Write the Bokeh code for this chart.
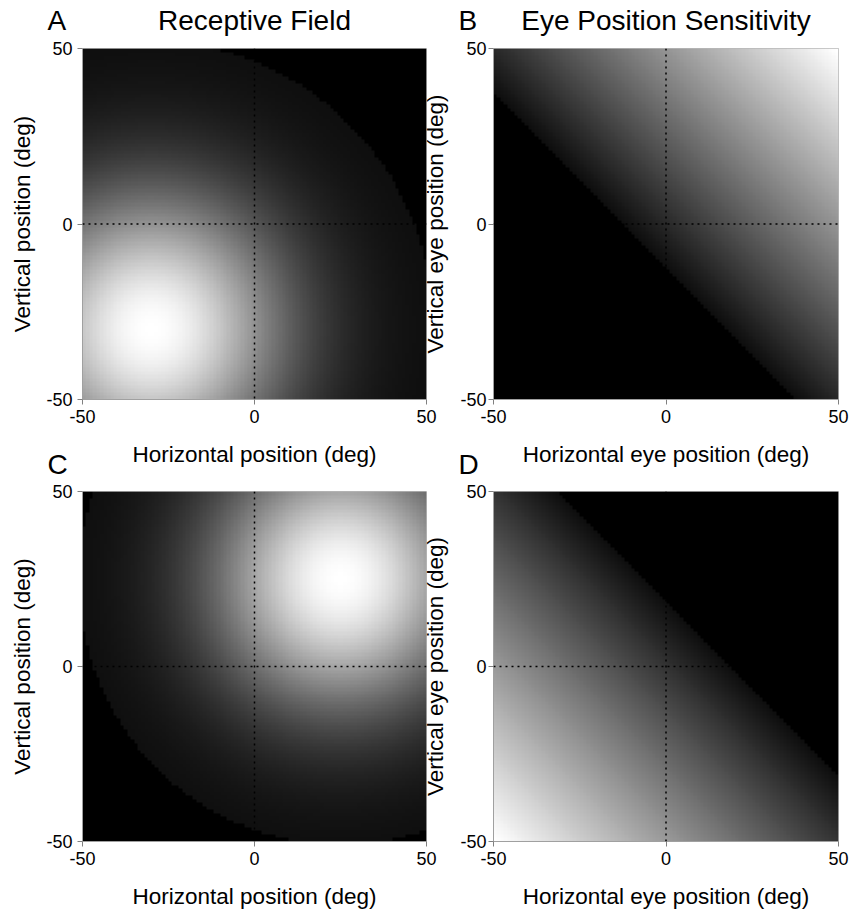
import numpy as np
from bokeh.plotting import figure
from bokeh.models import Span, FixedTicker, Range1d
from bokeh.layouts import column, row
from bokeh.core.properties import value
from bokeh.embed import file_html
from bokeh.resources import INLINE

# ---- data ----
tick_values = [-50, 0, 50]
tick_labels = ["-50", "0", "50"]
panel_letters = ["A", "B", "C", "D"]
panel_titles = ["Receptive Field", "Eye Position Sensitivity"]
x_labels = ["Horizontal position (deg)", "Horizontal eye position (deg)"]
y_labels = ["Vertical position (deg)", "Vertical eye position (deg)"]

# receptive fields (panels A, C): centre, width, cut-off radius (deg)
rf_center_x = [-30, 25]
rf_center_y = [-30, 25]
rf_sigma = [27.5, 26]
rf_cutoff = [82, 76]

# eye-position gain fields (panels B, D): threshold on (x + y), direction
gain_threshold = [-13, 19]
gain_sign = [1, -1]

response_floor = 0.045          # grey level just inside the cut-off
grid_deg = np.arange(-49.5, 50.0, 1.0)   # 1-degree sampling grid

FONT = "Liberation Sans"
X, Y = np.meshgrid(grid_deg, grid_deg)

# ---- layout constants (pixels) ----
W = 851
LEFT_W, RIGHT_W = 440, 431          # figure widths (right one overlaps by 20)
OVERLAP_X = 20
FRAME_L = [82, 73]                  # left border of left / right figure
FRAME_W = [344, 345]
FRAME_R = [14, 13]
FRAME_H = 351
TOP_ROW = dict(top=48, bottom=77)
BOT_ROW = dict(top=41, bottom=69)


def to_rgba(v, rep=4):
    g = np.clip(np.round(v * 255), 0, 255).astype(np.uint8)
    g = np.repeat(np.repeat(g, rep, axis=0), rep, axis=1)
    n, m = g.shape
    img = np.empty((n, m), dtype=np.uint32)
    view = img.view(dtype=np.uint8).reshape((n, m, 4))
    view[:, :, 0] = g
    view[:, :, 1] = g
    view[:, :, 2] = g
    view[:, :, 3] = 255
    return img


def rf_map(i):
    r2 = (X - rf_center_x[i]) ** 2 + (Y - rf_center_y[i]) ** 2
    v = response_floor + (1 - response_floor) * np.exp(-r2 / (2.0 * rf_sigma[i] ** 2))
    return np.where(np.sqrt(r2) <= rf_cutoff[i], v, 0.0)


def gain_map(i):
    s = gain_sign[i] * ((X + Y) - gain_threshold[i])
    v = response_floor + (1 - response_floor) * s / s.max()
    return np.where(s > 0, v, 0.0)


def make_panel(img, xlabel, ylabel, col, rowspec, tick_standoff, ylab_standoff, margin):
    left, fw, right = FRAME_L[col], FRAME_W[col], FRAME_R[col]
    top, bottom = rowspec["top"], rowspec["bottom"]
    p = figure(width=left + fw + right, height=top + FRAME_H + bottom,
               x_range=Range1d(-50, 50), y_range=Range1d(-50, 50),
               output_backend="svg", toolbar_location=None,
               min_border_left=left, min_border_right=right,
               min_border_top=top, min_border_bottom=bottom,
               margin=margin)
    p.border_fill_color = None
    p.outline_line_color = "#b8b8b8"
    p.outline_line_width = 1
    p.grid.visible = False

    p.image_rgba(image=[img], x=-50, y=-50, dw=100, dh=100)

    for dim in ("height", "width"):
        p.add_layout(Span(location=0, dimension=dim, line_color="black",
                          line_width=1.5, line_dash="2 4"))

    for ax in (p.xaxis[0], p.yaxis[0]):
        ax.ticker = FixedTicker(ticks=tick_values)
        ax.major_label_overrides = dict(zip(tick_values, tick_labels))
        ax.minor_tick_line_color = None
        ax.major_tick_in = 0
        ax.major_tick_out = 5
        ax.major_tick_line_color = "#808080"
        ax.axis_line_color = "#a0a0a0"
        ax.major_label_text_font = FONT
        ax.major_label_text_font_size = "18px"
        ax.major_label_text_color = "black"
        ax.axis_label_text_font = FONT
        ax.axis_label_text_font_size = "22.5px"
        ax.axis_label_text_font_style = "normal"
        ax.axis_label_text_color = "black"
    p.xaxis[0].axis_label = xlabel
    p.yaxis[0].axis_label = ylabel
    p.xaxis[0].major_label_standoff = 5
    p.xaxis[0].axis_label_standoff = 16
    p.yaxis[0].major_label_standoff = tick_standoff
    p.yaxis[0].axis_label_standoff = ylab_standoff
    p.yaxis[0].major_label_orientation = "horizontal"
    return p


def header(height, letters, titles, text_y, margin):
    h = figure(width=W, height=height, x_range=Range1d(0, W), y_range=Range1d(0, height),
               output_backend="svg", toolbar_location=None, min_border=0,
               x_axis_location=None, y_axis_location=None, margin=margin)
    h.grid.visible = False
    h.outline_line_color = None
    h.border_fill_color = None
    h.background_fill_color = None
    frame_lefts = [FRAME_L[0], LEFT_W - OVERLAP_X + FRAME_L[1]]
    letter_x = [fl - 35 for fl in frame_lefts]
    h.text(x=letter_x, y=[text_y] * len(letters), text=letters,
           text_font=value(FONT), text_font_size="28px",
           text_baseline="middle", text_align="left", text_color="black")
    if titles:
        title_x = [fl + fw / 2.0 for fl, fw in zip(frame_lefts, FRAME_W)]
        h.text(x=title_x, y=[text_y] * len(titles), text=titles,
               text_font=value(FONT), text_font_size="28px",
               text_baseline="middle", text_align="center", text_color="black")
    return h


pA = make_panel(to_rgba(rf_map(0)), x_labels[0], y_labels[0], 0, TOP_ROW, 5, 8, 0)
pB = make_panel(to_rgba(gain_map(0)), x_labels[1], y_labels[1], 1, TOP_ROW, 2, 9,
                (0, 0, 0, -OVERLAP_X))
pC = make_panel(to_rgba(rf_map(1)), x_labels[0], y_labels[0], 0, BOT_ROW, 5, 8, 0)
pD = make_panel(to_rgba(gain_map(1)), x_labels[1], y_labels[1], 1, BOT_ROW, 2, 9,
                (0, 0, 0, -OVERLAP_X))

top_height = TOP_ROW["top"] + FRAME_H + TOP_ROW["bottom"]        # 476
bot_top = 450

head_top = header(48, panel_letters[:2], panel_titles, 28.5, 0)
top_row = row(pA, pB, margin=(-48, 0, 0, 0))
head_mid = header(BOT_ROW["top"], panel_letters[2:], None, 27,
                  (bot_top - top_height, 0, 0, 0))
bottom_row = row(pC, pD, margin=(-BOT_ROW["top"], 0, 0, 0))
layout = column(head_top, top_row, head_mid, bottom_row)

open("out.html", "w").write(file_html(layout, INLINE))
